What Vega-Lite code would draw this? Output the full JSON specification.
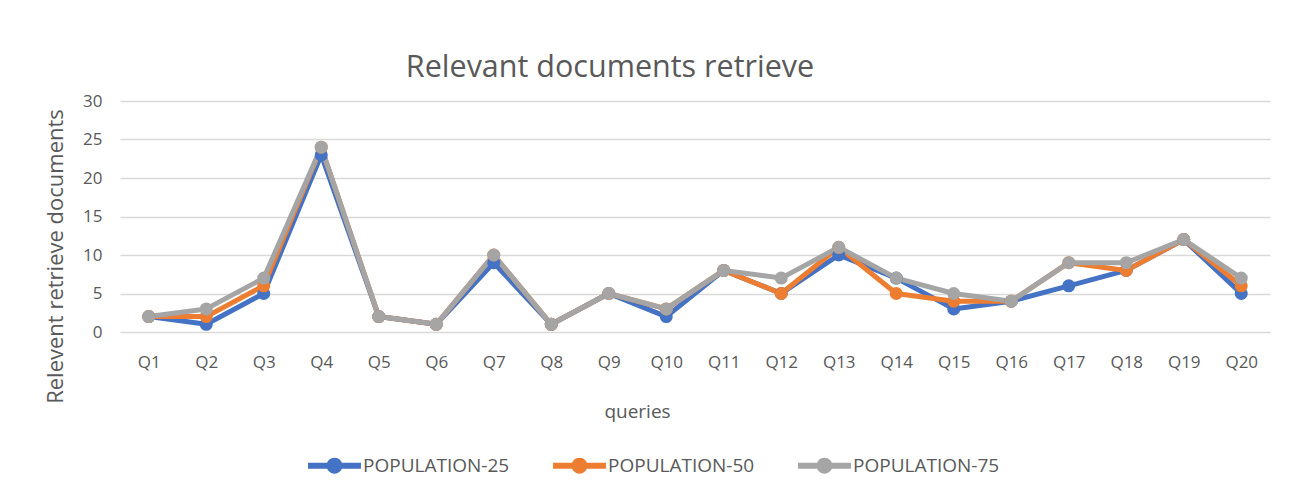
{
  "$schema": "https://vega.github.io/schema/vega-lite/v6.json",
  "width": 1150,
  "height": 231,
  "autosize": {"type": "none"},
  "padding": {"left": 120, "top": 101, "right": 24, "bottom": 163},
  "background": "white",
  "title": {
    "text": "Relevant documents retrieve",
    "anchor": "middle",
    "dx": -85,
    "offset": 9,
    "fontSize": 30.5,
    "font": "Open Sans",
    "fontWeight": "normal",
    "color": "#595959"
  },
  "data": {
    "values": [
      {"q": "Q1", "s": "POPULATION-25", "v": 2},
      {"q": "Q2", "s": "POPULATION-25", "v": 1},
      {"q": "Q3", "s": "POPULATION-25", "v": 5},
      {"q": "Q4", "s": "POPULATION-25", "v": 23},
      {"q": "Q5", "s": "POPULATION-25", "v": 2},
      {"q": "Q6", "s": "POPULATION-25", "v": 1},
      {"q": "Q7", "s": "POPULATION-25", "v": 9},
      {"q": "Q8", "s": "POPULATION-25", "v": 1},
      {"q": "Q9", "s": "POPULATION-25", "v": 5},
      {"q": "Q10", "s": "POPULATION-25", "v": 2},
      {"q": "Q11", "s": "POPULATION-25", "v": 8},
      {"q": "Q12", "s": "POPULATION-25", "v": 5},
      {"q": "Q13", "s": "POPULATION-25", "v": 10},
      {"q": "Q14", "s": "POPULATION-25", "v": 7},
      {"q": "Q15", "s": "POPULATION-25", "v": 3},
      {"q": "Q16", "s": "POPULATION-25", "v": 4},
      {"q": "Q17", "s": "POPULATION-25", "v": 6},
      {"q": "Q18", "s": "POPULATION-25", "v": 8},
      {"q": "Q19", "s": "POPULATION-25", "v": 12},
      {"q": "Q20", "s": "POPULATION-25", "v": 5},
      {"q": "Q1", "s": "POPULATION-50", "v": 2},
      {"q": "Q2", "s": "POPULATION-50", "v": 2},
      {"q": "Q3", "s": "POPULATION-50", "v": 6},
      {"q": "Q4", "s": "POPULATION-50", "v": 24},
      {"q": "Q5", "s": "POPULATION-50", "v": 2},
      {"q": "Q6", "s": "POPULATION-50", "v": 1},
      {"q": "Q7", "s": "POPULATION-50", "v": 10},
      {"q": "Q8", "s": "POPULATION-50", "v": 1},
      {"q": "Q9", "s": "POPULATION-50", "v": 5},
      {"q": "Q10", "s": "POPULATION-50", "v": 3},
      {"q": "Q11", "s": "POPULATION-50", "v": 8},
      {"q": "Q12", "s": "POPULATION-50", "v": 5},
      {"q": "Q13", "s": "POPULATION-50", "v": 11},
      {"q": "Q14", "s": "POPULATION-50", "v": 5},
      {"q": "Q15", "s": "POPULATION-50", "v": 4},
      {"q": "Q16", "s": "POPULATION-50", "v": 4},
      {"q": "Q17", "s": "POPULATION-50", "v": 9},
      {"q": "Q18", "s": "POPULATION-50", "v": 8},
      {"q": "Q19", "s": "POPULATION-50", "v": 12},
      {"q": "Q20", "s": "POPULATION-50", "v": 6},
      {"q": "Q1", "s": "POPULATION-75", "v": 2},
      {"q": "Q2", "s": "POPULATION-75", "v": 3},
      {"q": "Q3", "s": "POPULATION-75", "v": 7},
      {"q": "Q4", "s": "POPULATION-75", "v": 24},
      {"q": "Q5", "s": "POPULATION-75", "v": 2},
      {"q": "Q6", "s": "POPULATION-75", "v": 1},
      {"q": "Q7", "s": "POPULATION-75", "v": 10},
      {"q": "Q8", "s": "POPULATION-75", "v": 1},
      {"q": "Q9", "s": "POPULATION-75", "v": 5},
      {"q": "Q10", "s": "POPULATION-75", "v": 3},
      {"q": "Q11", "s": "POPULATION-75", "v": 8},
      {"q": "Q12", "s": "POPULATION-75", "v": 7},
      {"q": "Q13", "s": "POPULATION-75", "v": 11},
      {"q": "Q14", "s": "POPULATION-75", "v": 7},
      {"q": "Q15", "s": "POPULATION-75", "v": 5},
      {"q": "Q16", "s": "POPULATION-75", "v": 4},
      {"q": "Q17", "s": "POPULATION-75", "v": 9},
      {"q": "Q18", "s": "POPULATION-75", "v": 9},
      {"q": "Q19", "s": "POPULATION-75", "v": 12},
      {"q": "Q20", "s": "POPULATION-75", "v": 7}
    ]
  },
  "encoding": {
    "x": {
      "field": "q",
      "type": "ordinal",
      "sort": null,
      "scale": {"paddingInner": 0, "paddingOuter": 0, "align": 0.5},
      "axis": {
        "title": "queries",
        "labelAngle": 0,
        "labelFontSize": 17,
        "labelFont": "Open Sans",
        "labelColor": "#595959",
        "labelPadding": 22,
        "ticks": false,
        "domain": false,
        "grid": false,
        "titleFont": "Open Sans",
        "titleFontSize": 19,
        "titleFontWeight": "normal",
        "titleColor": "#595959",
        "titleX": 517,
        "titleY": 79,
        "titleBaseline": "middle"
      }
    },
    "y": {
      "field": "v",
      "type": "quantitative",
      "scale": {"domain": [0, 30]},
      "axis": {
        "title": "Relevent retrieve documents",
        "values": [0, 5, 10, 15, 20, 25, 30],
        "labelFontSize": 17,
        "labelFont": "Open Sans",
        "labelColor": "#595959",
        "labelPadding": 18,
        "ticks": false,
        "domain": false,
        "gridColor": "#d9d9d9",
        "gridWidth": 1.5,
        "titleFont": "Open Sans",
        "titleFontSize": 22,
        "titleFontWeight": "normal",
        "titleColor": "#595959",
        "titleX": -65,
        "titleY": 155,
        "titleAngle": -90,
        "titleBaseline": "middle"
      }
    },
    "color": {
      "field": "s",
      "type": "nominal",
      "scale": {
        "domain": ["POPULATION-25", "POPULATION-50", "POPULATION-75"],
        "range": ["#4472C4", "#ED7D31", "#A5A5A5"]
      },
      "legend": {
        "title": null,
        "orient": "none",
        "direction": "horizontal",
        "legendX": 188,
        "legendY": 338,
        "labelFont": "Open Sans",
        "labelFontSize": 19,
        "labelColor": "#595959",
        "labelOffset": 2,
        "columnPadding": 43,
        "symbolType": "M-1,-0.11H1V0.11H-1Z M-0.3,0A0.3,0.3 0 1,1 0.3,0A0.3,0.3 0 1,1 -0.3,0Z",
        "symbolSize": 2800,
        "symbolStrokeWidth": 0,
        "symbolOpacity": 1,
        "encode": {
          "symbols": {"update": {"fill": {"scale": "color", "field": "value"}, "strokeWidth": {"value": 0}}}
        }
      }
    }
  },
  "layer": [
    {"mark": {"type": "line", "strokeWidth": 5, "strokeJoin": "round"}},
    {"mark": {"type": "point", "filled": true, "size": 170, "opacity": 1}}
  ],
  "config": {"view": {"stroke": null}}
}
